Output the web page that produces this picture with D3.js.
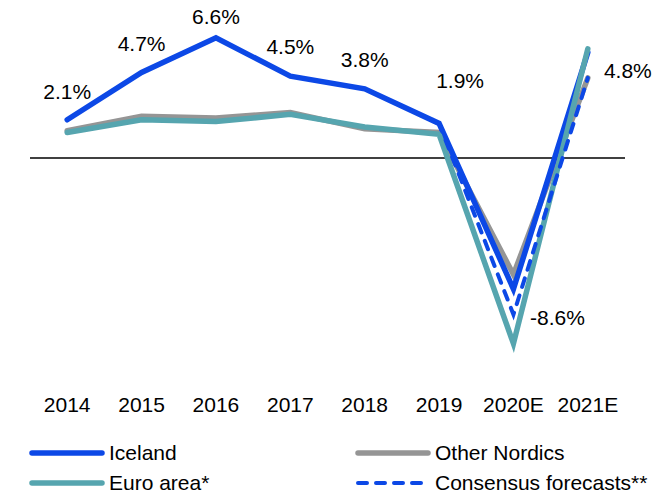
<!DOCTYPE html>
<html>
<head>
<meta charset="utf-8">
<script src="https://cdn.jsdelivr.net/npm/d3@7"></script>
<style>
    body { margin: 0; background: #fff; }
    text { font-family: "Liberation Sans", Arial, sans-serif; fill: #000; }
</style>
</head>
<body>
<svg id="chart"></svg>
<script>
// GDP growth, %
const years = ["2014", "2015", "2016", "2017", "2018", "2019", "2020E", "2021E"];
const iceland = [2.1, 4.7, 6.6, 4.5, 3.8, 1.9, -7.2, 5.8];
const otherNordics = [1.5, 2.3, 2.2, 2.5, 1.6, 1.4, -6.4, 4.4];
const euroArea = [1.4, 2.1, 2.0, 2.4, 1.7, 1.3, -10.2, 6.0];
const consensusYears = ["2019", "2020E", "2021E"];
const consensus = [1.9, -8.6, 4.4];

// value labels
const labelYears = ["2014", "2015", "2016", "2017", "2018", "2019", "2020E", "2021E"];
const labelValues = [2.1, 4.7, 6.6, 4.5, 3.8, 1.9, -8.6, 4.8];

const colors = {
    iceland: "#0c48e6",
    nordics: "#959595",
    euro: "#56a5af"
};

const width = 653, height = 494;
const fontSize = "21px";

const svg = d3.select("#chart")
    .attr("width", width)
    .attr("height", height);

const x = d3.scaleBand()
    .domain(years)
    .range([30, 625]);

const y = d3.scaleLinear()
    .domain([-12, 8])
    .range([376.4, 12.4]);

const cx = d => x(d) + x.bandwidth() / 2;

// zero line
svg.append("line")
    .attr("x1", x.range()[0])
    .attr("x2", x.range()[1])
    .attr("y1", y(0))
    .attr("y2", y(0))
    .attr("stroke", "#000")
    .attr("stroke-width", 1.5);

// year labels
const axis = svg.append("g")
    .attr("transform", `translate(0, ${390})`)
    .call(d3.axisBottom(x).tickSize(0).tickPadding(0));
axis.select(".domain").remove();
axis.selectAll("text")
    .attr("dy", "0.35em")
    .attr("y", 15)
    .style("font-size", fontSize)
    .style("font-family", "Liberation Sans, Arial, sans-serif");

const line = d3.line()
    .x(d => cx(d[0]))
    .y(d => y(d[1]));

const series = [
    { name: "nordics", values: otherNordics, color: colors.nordics },
    { name: "iceland", values: iceland, color: colors.iceland },
    { name: "euro", values: euroArea, color: colors.euro }
];

const lines = svg.append("g");

series.forEach(s => {
    lines.append("path")
        .attr("d", line(years.map((yr, i) => [yr, s.values[i]])))
        .attr("fill", "none")
        .attr("stroke", s.color)
        .attr("stroke-width", 5.5)
        .attr("stroke-linecap", "round")
        .attr("stroke-linejoin", "miter");
});

lines.append("path")
    .attr("d", line(consensusYears.map((yr, i) => [yr, consensus[i]])))
    .attr("fill", "none")
    .attr("stroke", colors.iceland)
    .attr("stroke-width", 4)
    .attr("stroke-dasharray", "9,9")
    .attr("stroke-linecap", "round");

// label offsets (dx, dy from the point)
const labelOffsets = {
    "2014": [0, -28], "2015": [0, -29], "2016": [0, -21], "2017": [0, -29],
    "2018": [0, -29], "2019": [21, -43], "2020E": [44, 3], "2021E": [40, 0]
};

svg.append("g").selectAll("text")
    .data(labelYears.map((yr, i) => ({ yr, v: labelValues[i] })))
    .join("text")
    .attr("x", d => cx(d.yr) + labelOffsets[d.yr][0])
    .attr("y", d => y(d.v) + labelOffsets[d.yr][1])
    .attr("dy", "0.35em")
    .attr("text-anchor", "middle")
    .style("font-size", fontSize)
    .text(d => d.v.toFixed(1) + "%");

// legend
const legendItems = [
    { label: "Iceland", color: colors.iceland, dash: null, col: 0, row: 0 },
    { label: "Other Nordics", color: colors.nordics, dash: null, col: 1, row: 0 },
    { label: "Euro area*", color: colors.euro, dash: null, col: 0, row: 1 },
    { label: "Consensus forecasts**", color: colors.iceland, dash: "9,9", col: 1, row: 1 }
];

const legend = svg.append("g");
const colX = [32, 358], rowY = [453, 483];

legendItems.forEach(item => {
    const g = legend.append("g")
        .attr("transform", `translate(${colX[item.col]}, ${rowY[item.row]})`);
    g.append("line")
        .attr("x1", 0).attr("x2", 70)
        .attr("y1", 0).attr("y2", 0)
        .attr("stroke", item.color)
        .attr("stroke-width", item.dash ? 4 : 5.5)
        .attr("stroke-linecap", "round")
        .attr("stroke-dasharray", item.dash);
    g.append("text")
        .attr("x", 77)
        .attr("dy", "0.35em")
        .style("font-size", fontSize)
        .text(item.label);
});
</script>
</body>
</html>
